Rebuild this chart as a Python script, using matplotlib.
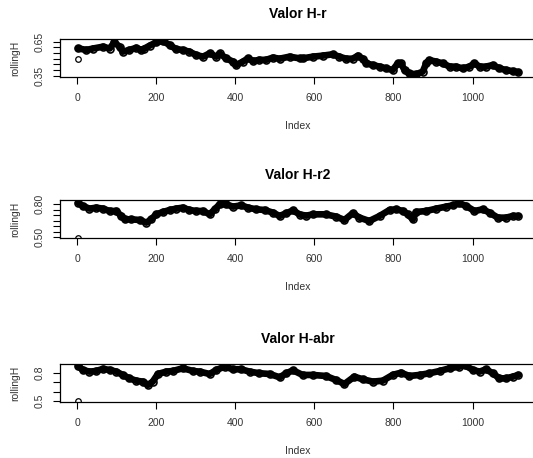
import numpy as np
import matplotlib
matplotlib.use("Agg")
import matplotlib.pyplot as plt

plt.rcParams['font.family'] = ['Liberation Sans', 'DejaVu Sans']

# valores (indice, rollingH)
idx_r = [1, 2, 23, 40, 65, 82, 94, 107, 115, 132, 149, 162, 170, 183, 200, 217,
         234, 250, 267, 284, 301, 318, 335, 352, 360, 377, 394, 402, 419, 432,
         445, 461, 478, 495, 512, 537, 563, 570, 596, 621, 646, 663, 680, 697,
         710, 722, 731, 748, 765, 781, 798, 811, 819, 828, 840, 857, 874, 883,
         891, 908, 925, 942, 958, 975, 992, 1005, 1018, 1034, 1051, 1068, 1085,
         1102, 1116]
h_r = [0.50, 0.592, 0.577, 0.59, 0.606, 0.59, 0.645, 0.606, 0.562, 0.577, 0.596,
       0.577, 0.59, 0.615, 0.645, 0.656, 0.62, 0.585, 0.577, 0.562, 0.533, 0.518,
       0.547, 0.518, 0.547, 0.503, 0.474, 0.444, 0.474, 0.503, 0.48, 0.49, 0.49,
       0.51, 0.50, 0.518, 0.503, 0.503, 0.518, 0.527, 0.539, 0.518, 0.50, 0.50,
       0.527, 0.50, 0.459, 0.444, 0.43, 0.415, 0.40, 0.459, 0.459, 0.40, 0.371,
       0.362, 0.386, 0.459, 0.488, 0.474, 0.459, 0.43, 0.43, 0.415, 0.43, 0.459,
       0.43, 0.43, 0.444, 0.415, 0.40, 0.39, 0.38]

idx_r2 = [1, 2, 14, 31, 48, 65, 82, 99, 111, 120, 137, 158, 175, 187, 200, 217,
          234, 250, 267, 284, 301, 318, 335, 348, 360, 377, 394, 415, 432, 453,
          474, 495, 512, 529, 546, 563, 580, 596, 629, 655, 676, 697, 714, 739,
          765, 790, 807, 824, 836, 849, 857, 883, 908, 933, 950, 967, 984, 1005,
          1026, 1043, 1064, 1085, 1102, 1116]
h_r2 = [0.497, 0.812, 0.782, 0.758, 0.767, 0.758, 0.737, 0.737, 0.692, 0.662,
        0.662, 0.656, 0.632, 0.662, 0.707, 0.728, 0.746, 0.758, 0.767, 0.746,
        0.737, 0.737, 0.707, 0.752, 0.797, 0.797, 0.776, 0.788, 0.767, 0.752,
        0.746, 0.722, 0.692, 0.717, 0.742, 0.705, 0.695, 0.707, 0.707, 0.686,
        0.656, 0.717, 0.677, 0.647, 0.692, 0.746, 0.752, 0.737, 0.707, 0.662,
        0.728, 0.737, 0.758, 0.776, 0.788, 0.806, 0.782, 0.737, 0.752, 0.722,
        0.677, 0.677, 0.692, 0.692]

idx_abr = [1, 2, 14, 31, 48, 65, 82, 99, 115, 132, 149, 166, 179, 191, 204, 225,
           242, 267, 293, 310, 335, 352, 373, 394, 415, 436, 461, 487, 512, 529,
           546, 570, 596, 629, 655, 676, 701, 722, 748, 773, 798, 819, 840, 866,
           891, 917, 942, 967, 980, 1001, 1018, 1034, 1051, 1068, 1085, 1102, 1116]
h_abr = [0.50, 0.871, 0.829, 0.811, 0.818, 0.84, 0.829, 0.811, 0.776, 0.74,
         0.715, 0.705, 0.67, 0.705, 0.786, 0.811, 0.818, 0.847, 0.818, 0.811,
         0.786, 0.829, 0.864, 0.836, 0.836, 0.811, 0.794, 0.786, 0.751, 0.794,
         0.825, 0.776, 0.776, 0.765, 0.722, 0.68, 0.758, 0.73, 0.705, 0.715,
         0.776, 0.80, 0.765, 0.776, 0.794, 0.818, 0.847, 0.864, 0.88, 0.829,
         0.811, 0.836, 0.794, 0.74, 0.74, 0.758, 0.776]

titles = ['Valor H-r', 'Valor H-r2', 'Valor H-abr']
series = [(idx_r, h_r), (idx_r2, h_r2), (idx_abr, h_abr)]
ylims = [(0.336, 0.674), (0.491, 0.836), (0.486, 0.892)]
yticks = [[0.35, 0.40, 0.45, 0.50, 0.55, 0.60, 0.65],
          [0.50, 0.55, 0.60, 0.65, 0.70, 0.75, 0.80],
          [0.5, 0.6, 0.7, 0.8]]
ylabels = [['0.35', '', '', '', '', '', '0.65'],
           ['0.50', '', '', '', '', '', '0.80'],
           ['0.5', '', '', '0.8']]
xticks = [0, 200, 400, 600, 800, 1000]

W, H = 533, 458
fig = plt.figure(figsize=(W / 100, H / 100), dpi=100)

tops = [39, 200, 364]
hgt = 38.3
n = 1116
xlim = (1 - 0.04 * (n - 1), n + 0.04 * (n - 1))

for i in range(3):
    top = tops[i]
    ax = fig.add_axes([60 / W, 1 - (top + hgt) / H, 476 / W, hgt / H])
    x, y = series[i]
    # primer punto (atipico) como circulo abierto
    ax.plot(x[:1], y[:1], 'o', mfc='none', mec='black', ms=4, mew=0.9)
    ax.plot(x[1:], y[1:], '-', color='black', lw=4.8,
            solid_capstyle='round', solid_joinstyle='round')
    ax.plot(x[1:], y[1:], 'o', mfc='none', mec='black', ms=5, mew=1.2)
    ax.set_xlim(xlim)
    ax.set_ylim(ylims[i])
    ax.set_xticks(xticks)
    ax.set_yticks(yticks[i])
    ax.set_yticklabels(ylabels[i])
    ax.tick_params(length=5, width=0.8, labelsize=7.5, pad=6, colors='black',
                   labelcolor='#333333')
    plt.setp(ax.get_yticklabels(), rotation=90, va='center')
    for s in ax.spines.values():
        s.set_linewidth(0.9)
    ax.set_title(titles[i], fontsize=10, fontweight='bold', pad=15)
    ax.text(0.5, -49 / hgt, 'Index', transform=ax.transAxes,
            ha='center', va='center', fontsize=7.5, color='#333333')
    fig.text(15 / W, 1 - (top + hgt / 2) / H, 'rollingH', rotation=90,
             ha='center', va='center', fontsize=7.5, color='#333333')

fig.savefig('out.png', dpi=100)
